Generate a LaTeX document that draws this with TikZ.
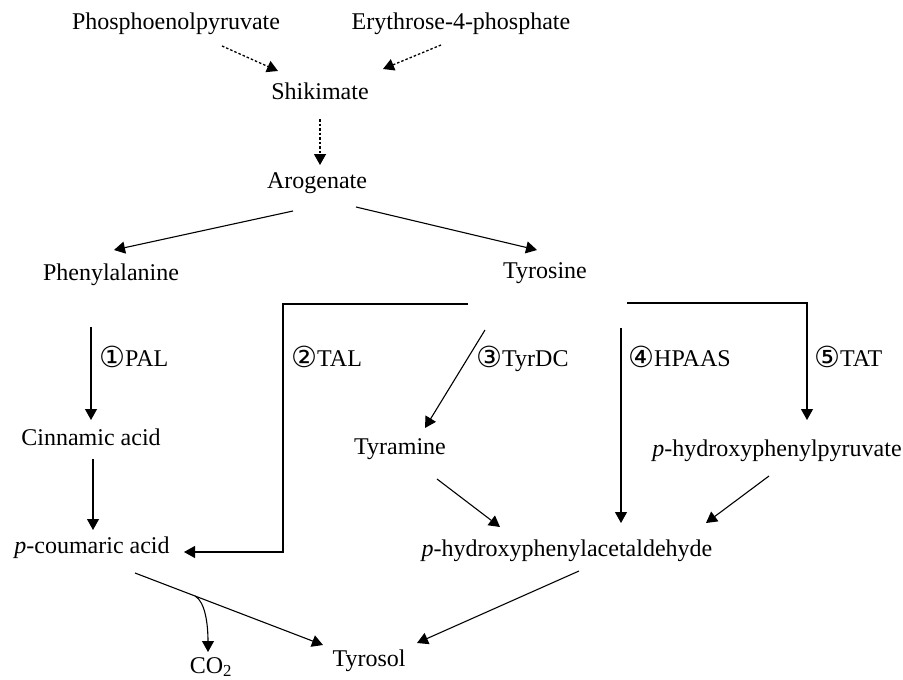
\documentclass[tikz,border=0pt]{standalone}
\usepackage{fontspec}
\setmainfont{Liberation Serif}
\newfontfamily\circfont{DejaVu Sans}
\usepackage{tikz}
\usetikzlibrary{arrows.meta}
\newcommand{\cnum}[1]{{\circfont\fontsize{29}{28}\selectfont\raisebox{-1pt}{#1}}}

\begin{document}
\begin{tikzpicture}[x=1pt, y=-1pt,
    every node/.style={font=\fontsize{24}{28}\selectfont, inner sep=2pt,
        text height=17pt, text depth=5pt},
    arr/.style={line width=1.1pt, -{Triangle[length=11pt,width=12pt]}},
    dotarr/.style={arr, line width=1.3pt, dash pattern=on 2.5pt off 2pt}]
    \useasboundingbox (0,0) rectangle (903,680);
    % compounds
    \node (phos) at (176,24) {Phosphoenolpyruvate};
    \node (eryth) at (461,24) {Erythrose-4-phosphate};
    \node (shik) at (320,93) {Shikimate};
    \node (arog) at (317,182) {Arogenate};
    \node (phe) at (111,274) {Phenylalanine};
    \node (tyr) at (545,272) {Tyrosine};
    \node (cin) at (91,439) {Cinnamic acid};
    \node (pcou) at (92,547) {\textit{p}-coumaric acid};
    \node (tyra) at (400,448) {Tyramine};
    \node (hpp) at (777,450) {\textit{p}-hydroxyphenylpyruvate};
    \node (hpa) at (567,550) {\textit{p}-hydroxyphenylacetaldehyde};
    \node (tyrosol) at (369,660) {Tyrosol};
    \node (co2) at (211,667) {CO\textsubscript{2}};
    % enzymes
    \node[anchor=west] (pal) at (97,360) {\cnum{①}PAL};
    \node[anchor=west] (tal) at (289,360) {\cnum{②}TAL};
    \node[anchor=west] (tyrdc) at (474,360) {\cnum{③}TyrDC};
    \node[anchor=west] (hpaas) at (626,360) {\cnum{④}HPAAS};
    \node[anchor=west] (tat) at (812,360) {\cnum{⑤}TAT};

    \draw[dotarr] ([shift={(46,22)}]phos.center) -- ([shift={(-42,-22)}]shik.center);
    \draw[dotarr] ([shift={(-20,21)}]eryth.center) -- ([shift={(63,-24)}]shik.center);
    \draw[dotarr] ([shift={(0,26)}]shik.center) -- ([shift={(3,-17)}]arog.center);
    \draw[arr] ([shift={(-24,29)}]arog.center) -- ([shift={(3,-24)}]phe.center);
    \draw[arr] ([shift={(39,25)}]arog.center) -- ([shift={(-8,-22)}]tyr.center);
    \draw[arr] ([shift={(-20,53)}]phe.center) -- ([shift={(0,-19)}]cin.center);
    \draw[arr] ([shift={(2,20)}]cin.center) -- ([shift={(1,-17)}]pcou.center);
    % TAL branch
    \coordinate (talbend) at (283,304);
    \draw[arr] ([shift={(-77,32)}]tyr.center) -- (talbend) |- ([shift={(92,5)}]pcou.center);
    \draw[arr] ([shift={(-60,58)}]tyr.center) -- ([shift={(25,-20)}]tyra.center);
    \draw[arr] ([shift={(76,56)}]tyr.center) -- ([shift={(54,-27)}]hpa.center);
    \draw[arr] ([shift={(82,31)}]tyr.center) -| ([shift={(30,-30)}]hpp.center);
    \draw[arr] ([shift={(37,31)}]tyra.center) -- ([shift={(-67,-23)}]hpa.center);
    \draw[arr] ([shift={(-8,26)}]hpp.center) -- ([shift={(139,-27)}]hpa.center);
    \draw[arr] ([shift={(43,26)}]pcou.center) -- coordinate[pos=0.32] (split)
        ([shift={(-46,-15)}]tyrosol.center);
    \draw[arr] ([shift={(12,21)}]hpa.center) -- ([shift={(48,-17)}]tyrosol.center);
    \draw[arr] (split) .. controls +(10,6) and +(0,-28) .. ([shift={(-3,-15)}]co2.center);
\end{tikzpicture}
\end{document}
